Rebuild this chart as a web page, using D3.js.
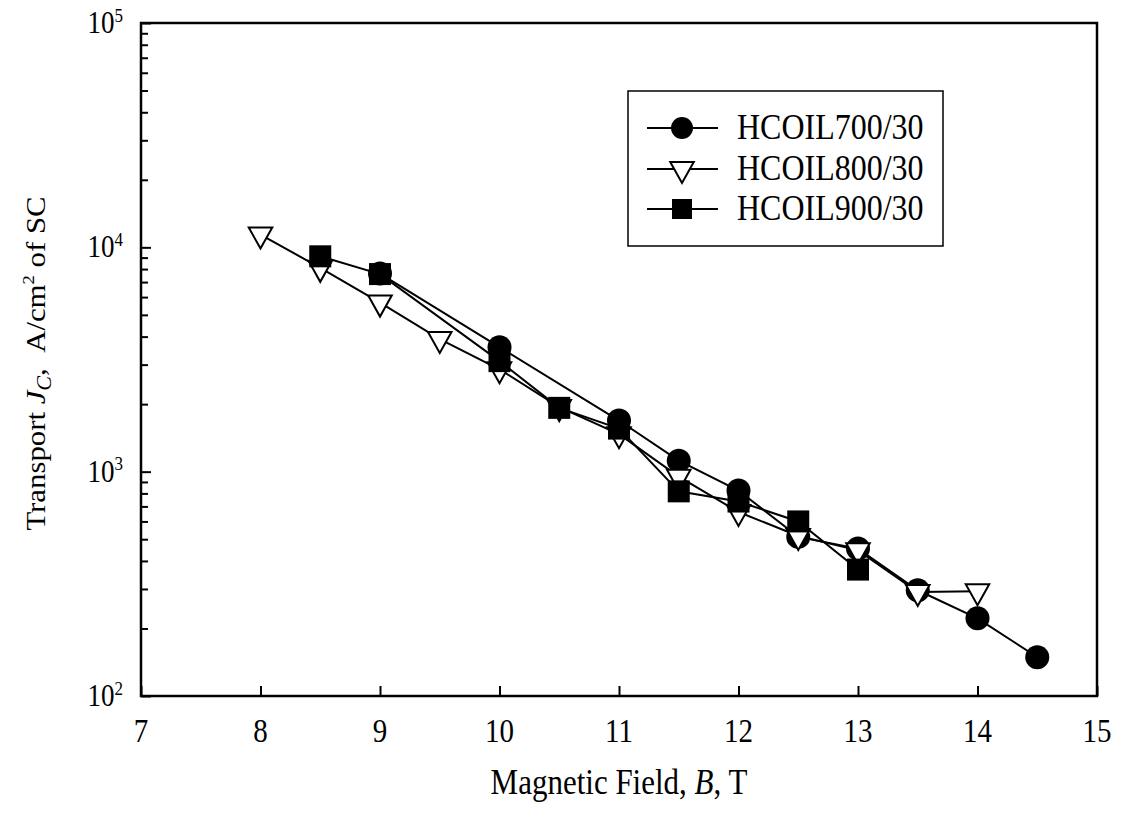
<!DOCTYPE html>
<html>
<head>
<meta charset="utf-8">
<script src="https://cdn.jsdelivr.net/npm/d3@7"></script>
<style>
  body { margin: 0; background: #fff; }
  text { font-family: "Liberation Serif", "Times New Roman", serif; fill: #000; }
</style>
</head>
<body>
<div id="figure"></div>
<script>
const width = 1127,
      height = 815,
      margin = {left: 141, right: 30, top: 23, bottom: 119};

// Text in the original looks stretched vertically a bit.
const stretch = 1.15;

// Data.
const xTicks = [7, 8, 9, 10, 11, 12, 13, 14, 15];
const yDecades = [100, 1000, 10000, 100000];
const seriesNames = ["HCOIL700/30", "HCOIL800/30", "HCOIL900/30"];

const field700 = [9, 10, 11, 11.5, 12, 12.5, 13, 13.5, 14, 14.5];
const jc700 = [7640, 3590, 1690, 1120, 824, 512, 454, 296, 222, 149];

const field800 = [8, 8.5, 9, 9.5, 10, 10.5, 11, 11.5, 12, 12.5, 13, 13.5, 14];
const jc800 = [11400, 8100, 5670, 3900, 2860, 1940, 1470, 950, 661, 517, 446, 291, 293];

const field900 = [8.5, 9, 10, 10.5, 11, 11.5, 12, 12.5, 13];
const jc900 = [9120, 7600, 3110, 1925, 1556, 817, 736, 600, 366];

const series = [
    {name: seriesNames[0], x: field700, y: jc700, marker: "circle"},
    {name: seriesNames[1], x: field800, y: jc800, marker: "triangle"},
    {name: seriesNames[2], x: field900, y: jc900, marker: "square"}
];

const svg = d3.select("#figure").append("svg")
    .attr("width", width)
    .attr("height", height);

svg.append("rect")
    .attr("width", width)
    .attr("height", height)
    .attr("fill", "#fff");

const xscale = d3.scaleLinear()
    .domain([7, 15])
    .range([margin.left, width - margin.right]);

const yscale = d3.scaleLog()
    .domain([100, 100000])
    .range([height - margin.bottom, margin.top]);

const x0 = xscale.range()[0], x1 = xscale.range()[1];
const y0 = yscale.range()[0], y1 = yscale.range()[1];

// Inward ticks.
svg.append("g")
    .attr("transform", `translate(0,${y0})`)
    .call(d3.axisBottom(xscale).tickValues(xTicks).tickSizeInner(-10).tickSizeOuter(0))
    .call(g => g.select(".domain").remove())
    .call(g => g.selectAll("text").remove())
    .call(g => g.selectAll("line").attr("stroke", "#000").attr("stroke-width", 2));

const minorTicks = [];
yDecades.slice(0, -1).forEach(d => { for (let k = 2; k <= 9; k++) minorTicks.push(d * k); });

svg.append("g")
    .attr("transform", `translate(${x0},0)`)
    .call(d3.axisLeft(yscale).tickValues(yDecades).tickSizeInner(-10).tickSizeOuter(0))
    .call(g => g.select(".domain").remove())
    .call(g => g.selectAll("text").remove())
    .call(g => g.selectAll("line").attr("stroke", "#000").attr("stroke-width", 2));

svg.append("g")
    .attr("transform", `translate(${x0},0)`)
    .call(d3.axisLeft(yscale).tickValues(minorTicks).tickSizeInner(-7).tickSizeOuter(0))
    .call(g => g.select(".domain").remove())
    .call(g => g.selectAll("text").remove())
    .call(g => g.selectAll("line").attr("stroke", "#000").attr("stroke-width", 2));

// Frame.
svg.append("rect")
    .attr("x", x0)
    .attr("y", y1)
    .attr("width", x1 - x0)
    .attr("height", y0 - y1)
    .attr("fill", "none")
    .attr("stroke", "#000")
    .attr("stroke-width", 2.5);

// Tick labels.
svg.append("g")
    .selectAll("text")
    .data(xTicks)
    .join("text")
        .attr("transform", d => `translate(${xscale(d)},${y0 + 46}) scale(1,${stretch})`)
        .attr("text-anchor", "middle")
        .attr("font-size", 29)
        .text(d => d);

const ylab = svg.append("g")
    .selectAll("text")
    .data(yDecades)
    .join("text")
        .attr("transform", d => `translate(${x0 - 18},${yscale(d) + 10}) scale(1,${stretch})`)
        .attr("text-anchor", "end")
        .attr("font-size", 27);
ylab.append("tspan").text("10");
ylab.append("tspan")
    .attr("font-size", 17)
    .attr("dy", -10)
    .text(d => Math.round(Math.log10(d)));

// Axis titles.
const xt = svg.append("text")
    .attr("transform", `translate(${(x0 + x1) / 2},${y0 + 98}) scale(1,${stretch})`)
    .attr("text-anchor", "middle")
    .attr("font-size", 31);
xt.append("tspan").text("Magnetic Field, ");
xt.append("tspan").attr("font-style", "italic").text("B");
xt.append("tspan").text(", T");

const yt = svg.append("text")
    .attr("transform", `translate(45,${(y0 + y1) / 2 + 4}) scale(1,1.1) rotate(-90)`)
    .attr("text-anchor", "middle")
    .attr("font-size", 28);
yt.append("tspan").text("Transport ");
yt.append("tspan").attr("font-style", "italic").text("J");
yt.append("tspan").attr("font-style", "italic").attr("font-size", 20).attr("dy", 6).text("C");
yt.append("tspan").attr("dy", -6).text(",\u00a0\u00a0A/cm");
yt.append("tspan").attr("font-size", 17).attr("dy", -11).text("2");
yt.append("tspan").attr("dy", 11).text(" of SC");

// Marker drawing.
function drawMarker(g, type, size) {
    if (type === "circle") {
        g.append("circle").attr("r", size / 2).attr("fill", "#000");
    } else if (type === "square") {
        g.append("rect")
            .attr("x", -size / 2).attr("y", -size / 2)
            .attr("width", size).attr("height", size)
            .attr("fill", "#000");
    } else {
        // Down triangle, centred on its centroid.
        const w = size * 1.12, h = size;
        g.append("path")
            .attr("d", `M${-w / 2},${-h / 3}L${w / 2},${-h / 3}L0,${2 * h / 3}Z`)
            .attr("fill", "#fff")
            .attr("stroke", "#000")
            .attr("stroke-width", 2);
    }
}

const markerSize = {circle: 24, triangle: 21, square: 22};

const line = d3.line()
    .x(d => xscale(d[0]))
    .y(d => yscale(d[1]));

series.forEach(s => {
    const pts = s.x.map((v, i) => [v, s.y[i]]);
    const g = svg.append("g");
    g.append("path")
        .datum(pts)
        .attr("d", line)
        .attr("fill", "none")
        .attr("stroke", "#000")
        .attr("stroke-width", 2);
    g.selectAll("g.pt")
        .data(pts)
        .join("g")
            .attr("class", "pt")
            .attr("transform", d => `translate(${xscale(d[0])},${yscale(d[1])})`)
            .each(function() { drawMarker(d3.select(this), s.marker, markerSize[s.marker]); });
});

// Legend.
const legend = svg.append("g");
legend.append("rect")
    .attr("x", 628).attr("y", 91)
    .attr("width", 315).attr("height", 155)
    .attr("fill", "#fff")
    .attr("stroke", "#000")
    .attr("stroke-width", 1.5);

const legendRows = [128, 169, 209];
series.forEach((s, i) => {
    const row = legend.append("g").attr("transform", `translate(0,${legendRows[i]})`);
    row.append("line")
        .attr("x1", 647).attr("x2", 718)
        .attr("stroke", "#000").attr("stroke-width", 2);
    const m = row.append("g").attr("transform", "translate(682,0)");
    drawMarker(m, s.marker, s.marker === "circle" ? 22 : s.marker === "square" ? 20 : 21);
    row.append("text")
        .attr("transform", `translate(737,11) scale(1,${stretch})`)
        .attr("font-size", 32)
        .text(s.name);
});
</script>
</body>
</html>
